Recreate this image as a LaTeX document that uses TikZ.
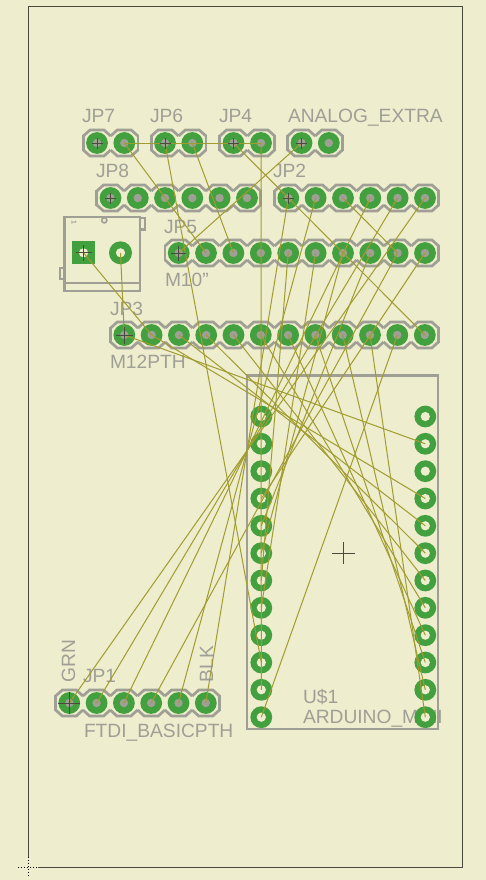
\documentclass[tikz,border=0pt]{standalone}
\usepackage{fontspec}
\setmainfont{Liberation Sans}
\definecolor{bgc}{HTML}{EEEDCD}
\definecolor{padg}{HTML}{43A03F}
\definecolor{silk}{HTML}{A09F96}
\definecolor{wirec}{HTML}{A09C30}
\definecolor{edgec}{HTML}{4A4A3E}
\tikzset{
  pad/.style={circle,draw=none,fill=padg,minimum size=21.8pt,inner sep=0pt,outer sep=0pt},
  hole/.style={circle,draw=none,fill=silk,minimum size=8.4pt,inner sep=0pt,outer sep=0pt},
  thhole/.style={circle,draw=none,fill=bgc,minimum size=9.2pt,inner sep=0pt,outer sep=0pt},
  squarepad/.style={rectangle,fill=padg,minimum size=23pt,inner sep=0pt,outer sep=0pt},
  airwire/.style={draw=wirec,line width=1pt},
  silkline/.style={draw=silk,line width=2.7pt,line join=miter},
  lbl/.style={text=silk,font=\fontsize{19.2}{20}\selectfont,anchor=base west,inner sep=0pt,outer sep=0pt},
  lblv/.style={lbl,rotate=90},
  originmark/.style={draw=edgec,line width=1pt},
  boardedge/.style={draw=edgec,line width=1.3pt}
}
\newcommand{\hdrow}[2]{%
  \foreach \cx in {#1}{
    \draw[silkline] (\cx-13.67,#2-7)--(\cx-7,#2-13)--(\cx+7,#2-13)--(\cx+13.67,#2-7);
    \draw[silkline] (\cx-13.67,#2+7)--(\cx-7,#2+13)--(\cx+7,#2+13)--(\cx+13.67,#2+7);
  }}
\newcommand{\hdend}[2]{\draw[silkline] (#1,#2-7.6)--(#1,#2+7.6);}
\newcommand{\pincross}[2]{\draw[originmark] ([xshift=-#2pt]#1.center)--([xshift=#2pt]#1.center) ([yshift=-#2pt]#1.center)--([yshift=#2pt]#1.center);}
\begin{document}
\begin{tikzpicture}[x=1pt,y=-1pt]
\useasboundingbox (0,0) rectangle (486,880);
\fill[bgc] (0,0) rectangle (486,880);
% board outline and origin
\coordinate (bo1) at (28.5,857);
\coordinate (bo2) at (28.5,6.5);
\coordinate (bo3) at (462.7,6.5);
\coordinate (bo4) at (462.7,867.3);
\coordinate (bo5) at (38,867.3);
\draw[boardedge] (bo1)--(bo2)--(bo3)--(bo4)--(bo5);
\coordinate (orA) at (18,867.3);
\coordinate (orB) at (38,867.3);
\coordinate (orC) at (28.5,857);
\coordinate (orD) at (28.5,877);
\draw[black,line width=1pt,dotted] (orA)--(orB) (orC)--(orD);
% labels
\node[lbl] (tjp7) at (82,123) {JP7};
\node[lbl] (tjp6) at (150,123) {JP6};
\node[lbl] (tjp4) at (219,123) {JP4};
\node[lbl] (tana) at (288,123) {ANALOG\_EXTRA};
\node[lbl] (tjp8) at (96,177) {JP8};
\node[lbl] (tjp2) at (273,177) {JP2};
\node[lbl] (tjp5) at (164,233) {JP5};
\node[lbl] (tm10) at (165,286) {M10"};
\node[lbl] (tjp3) at (110,315) {JP3};
\node[lbl] (tm12) at (110,368) {M12PTH};
\node[lbl] (tu1) at (303,703) {U\$1};
\node[lbl] (tard) at (303,723) {ARDUINO\_MINI};
\node[lbl] (tjp1) at (83,682) {JP1};
\node[lbl] (tftdi) at (84,737) {FTDI\_BASICPTH};
\node[lblv] (tgrn) at (75,682) {GRN};
\node[lblv] (tblk) at (213,682) {BLK};
% silk outlines
\hdrow{97,124.3}{143}\hdend{83.3}{143}\hdend{138}{143}
\hdrow{165,192.3}{143}\hdend{151.3}{143}\hdend{206}{143}
\hdrow{233.5,261}{143}\hdend{219.8}{143}\hdend{274.7}{143}
\hdrow{301.5,328.8}{143}\hdend{287.8}{143}\hdend{342.5}{143}
\hdrow{110.5,137.8,165,192.3,219.6,247}{198}\hdend{96.8}{198}\hdend{260.7}{198}
\hdrow{288.3,315.6,343,370.3,397.6,425}{198}\hdend{274.6}{198}\hdend{438.7}{198}
\hdrow{178.7,206,233.4,260.8,288.2,315.6,343,370.3,397.6,425}{253}\hdend{165}{253}\hdend{438.7}{253}
\hdrow{124.3,151.6,178.9,206.2,233.5,260.8,288.1,315.4,342.7,370,397.3,424.8}{335}\hdend{110.6}{335}\hdend{438.5}{335}
\hdrow{69.3,96.6,123.9,151.2,178.5,205.8}{703}\hdend{55.6}{703}\hdend{219.5}{703}
% jack outline
\draw[silkline] (64.5,217) rectangle (140,291);
\draw[silkline] (64.5,283) -- (140,283);
\draw[silkline] (140,218) -- (145,218) -- (145,229.5) -- (140,229.5);
\draw[silkline] (64.5,268) -- (60,268) -- (60,279) -- (64.5,279);
\draw[silk,line width=1.6pt] (104.3,220.3) circle (2.6);
\node[rotate=-90,text=silk,font=\fontsize{7}{7}\selectfont\bfseries,inner sep=0pt] (tjk) at (74,222.5) {1};
\draw[silkline] (247,375.5) rectangle (438,729);
% pads
\foreach \n/\x in {a/97,b/124.3}{\node[pad] (jpg\n) at (\x,143) {}; \node[hole] at (\x,143) {};}
\foreach \n/\x in {a/165,b/192.3}{\node[pad] (jpf\n) at (\x,143) {}; \node[hole] at (\x,143) {};}
\foreach \n/\x in {a/233.5,b/261}{\node[pad] (jpd\n) at (\x,143) {}; \node[hole] at (\x,143) {};}
\foreach \n/\x in {a/301.5,b/328.8}{\node[pad] (ana\n) at (\x,143) {}; \node[hole] at (\x,143) {};}
\foreach \n/\x in {a/110.5,b/137.8,c/165,d/192.3,e/219.6,f/247}{\node[pad] (jph\n) at (\x,198) {}; \node[hole] at (\x,198) {};}
\foreach \n/\x in {a/288.3,b/315.6,c/343,d/370.3,e/397.6,f/425}{\node[pad] (jpb\n) at (\x,198) {}; \node[hole] at (\x,198) {};}
\foreach \n/\x in {a/178.7,b/206,c/233.4,d/260.8,e/288.2,f/315.6,g/343,h/370.3,i/397.6,j/425}{\node[pad] (jpe\n) at (\x,253) {}; \node[hole] at (\x,253) {};}
\foreach \n/\x in {a/124.3,b/151.6,c/178.9,d/206.2,e/233.5,f/260.8,g/288.1,h/315.4,i/342.7,j/370,k/397.3,l/424.8}{\node[pad] (jpc\n) at (\x,335) {}; \node[hole] at (\x,335) {};}
\foreach \n/\x in {a/69.3,b/96.6,c/123.9,d/151.2,e/178.5,f/205.8}{\node[pad] (jpa\n) at (\x,703) {}; \node[hole] at (\x,703) {};}
\foreach \n/\y in {a/416.5,b/443.8,c/471.2,d/498.5,e/525.8,f/553.2,g/580.5,h/607.8,i/635.2,j/662.5,k/689.8,l/717.2}{
  \node[pad] (ul\n) at (261.3,\y) {}; \node[thhole] at (261.3,\y) {};
  \node[pad] (ur\n) at (425.3,\y) {}; \node[thhole] at (425.3,\y) {};
}
\node[squarepad] (jkA) at (83.5,252.8) {};
\node[thhole] (jkAh) at (jkA.center) {};
\node[pad,minimum size=23pt] (jkB) at (120.5,252.8) {};
\node[thhole] (jkBh) at (jkB.center) {};
% airwires
\draw[airwire] (jpgb.center)--(jpdb.center);
\draw[airwire] (jpgb.center)--(jpeb.center);
\draw[airwire] (jpfa.center)--(ulj.center);
\draw[airwire] (jpfb.center)--(jpec.center);
\draw[airwire] (jpda.center)--(jpcl.center);
\draw[airwire] (jpdb.center)--(ulk.center);
\draw[airwire] (anaa.center)--(jpea.center);
\draw[airwire] (jpba.center)--(jpaf.center);
\draw[airwire] (jpbb.center)--(jpae.center);
\draw[airwire] (jpbc.center)--(jpei.center);
\draw[airwire] (jpbd.center)--(jpac.center);
\draw[airwire] (jpbe.center)--(jpab.center);
\draw[airwire] (jpbf.center)--(jpaa.center);
\draw[airwire] (jpei.center)--(jpad.center);
\draw[airwire] (jpee.center)--(ulg.center);
\draw[airwire] (jpef.center)--(ulh.center);
\draw[airwire] (jpeg.center)--(ulf.center);
\draw[airwire] (jpeh.center)--(ule.center);
\draw[airwire] (jpej.center)--(uld.center);
\draw[airwire] (jkA.center)--(jpcb.center);
\draw[airwire] (jkB.center)--(jpca.center);
\draw[airwire] (jpca.center)--(urb.center);
\draw[airwire] (jpcb.center)--(urd.center);
\draw[airwire] (jpcc.center)--(ure.center);
\draw[airwire] (jpcd.center)--(urf.center);
\draw[airwire] (jpce.center)--(urg.center);
\draw[airwire] (jpcf.center)--(urh.center);
\draw[airwire] (jpcg.center)--(uri.center);
\draw[airwire] (jpch.center)--(urj.center);
\draw[airwire] (jpci.center)--(urk.center);
\draw[airwire] (jpcj.center)--(url.center);
\draw[airwire] (jpck.center)--(ull.center);
% origin crosses
\pincross{jpga}{5.5}
\pincross{jpfa}{5.5}
\pincross{jpda}{5.5}
\pincross{anaa}{5.5}
\pincross{jpha}{5.5}
\pincross{jpba}{5.5}
\pincross{jpea}{7.5}
\pincross{jkA}{8}
\pincross{jpca}{8.5}
\pincross{jpaa}{11}
\coordinate (ucc) at (343.3,553);
\pincross{ucc}{11.3}
\end{tikzpicture}
\end{document}
